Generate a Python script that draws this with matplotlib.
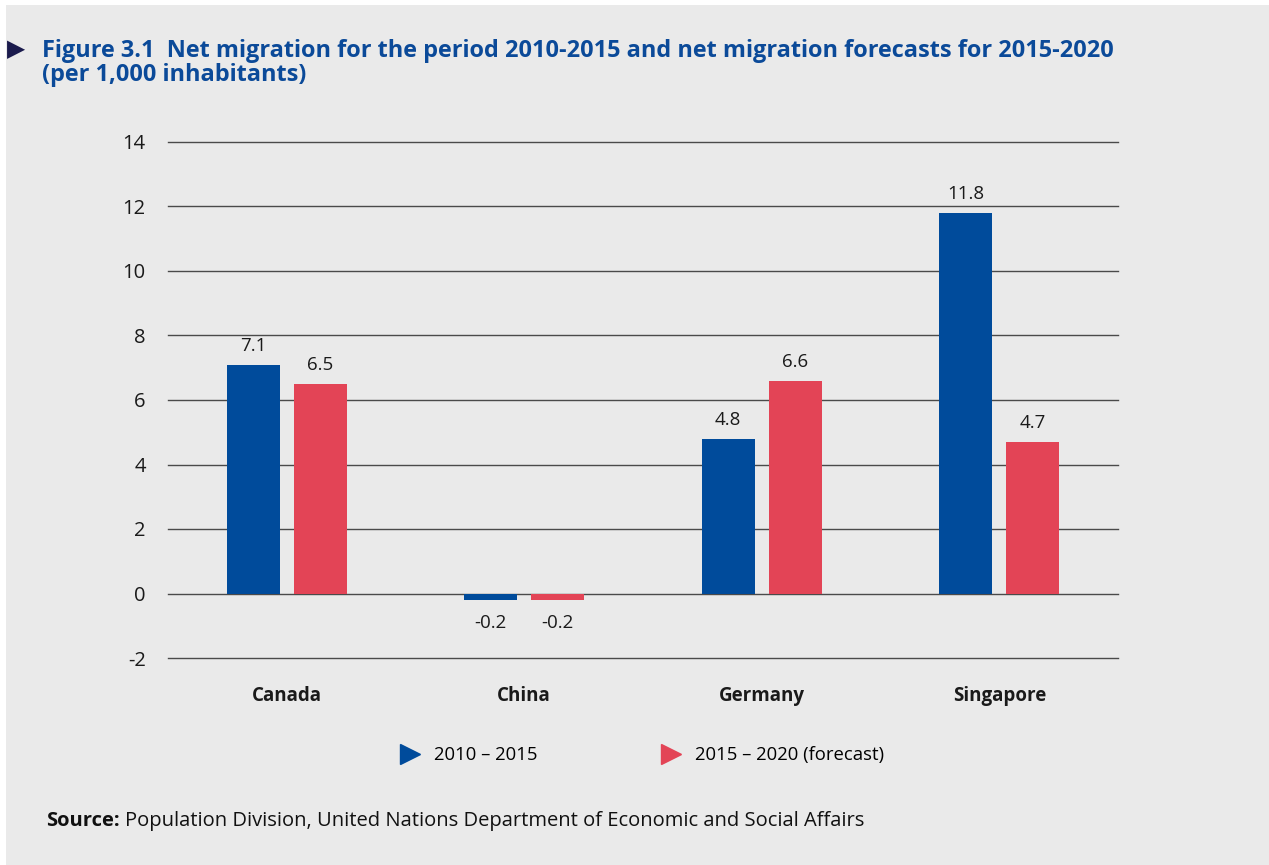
import numpy as np
import matplotlib
matplotlib.use('Agg')
import matplotlib.pyplot as plt
from matplotlib.lines import Line2D
from matplotlib.patches import Rectangle

plt.rcParams['font.family'] = ['Open Sans', 'Noto Sans', 'DejaVu Sans']

# данные
countries = ['Canada', 'China', 'Germany', 'Singapore']
mig_2010_2015 = [7.1, -0.2, 4.8, 11.8]
mig_2015_2020 = [6.5, -0.2, 6.6, 4.7]
labels_2010 = ['7.1', '-0.2', '4.8', '11.8']
labels_2015 = ['6.5', '-0.2', '6.6', '4.7']
series_names = ['2010 \u2013 2015', '2015 \u2013 2020 (forecast)']
y_ticks = [-2, 0, 2, 4, 6, 8, 10, 12, 14]

blue = '#004B9B'
red = '#E34456'
bg = '#EAEAEA'

fig = plt.figure(figsize=(12.69, 8.65), dpi=100)
fig.patch.set_facecolor('white')
fig.add_artist(Rectangle((6 / 1269, 0), 1 - 6 / 1269, 1 - 5 / 865,
                         transform=fig.transFigure, facecolor=bg,
                         edgecolor='none', zorder=-10))

ax = fig.add_axes([168 / 1269, 1 - 658 / 865, 950 / 1269, 516 / 865])
ax.set_facecolor('none')

x = np.arange(len(countries))
w = 0.223
off = 0.141
b1 = ax.bar(x - off, mig_2010_2015, w, color=blue, zorder=3)
b2 = ax.bar(x + off, mig_2015_2020, w, color=red, zorder=3)

for bars, vals, labs in [(b1, mig_2010_2015, labels_2010), (b2, mig_2015_2020, labels_2015)]:
    for bar, v, lab in zip(bars, vals, labs):
        xc = bar.get_x() + bar.get_width() / 2
        if v >= 0:
            ax.annotate(lab, (xc, v), xytext=(0, 7), textcoords='offset points',
                        ha='center', va='bottom', fontsize=13.5, color='#1a1a1a')
        else:
            ax.annotate(lab, (xc, v), xytext=(0, -10), textcoords='offset points',
                        ha='center', va='top', fontsize=13.5, color='#1a1a1a')

ax.set_xlim(-0.5, 3.5)
ax.set_ylim(-2, 14)
ax.set_yticks(y_ticks)
ax.set_yticklabels([str(t) for t in y_ticks], fontsize=14.5, color='#1a1a1a')
ax.set_xticks(x)
ax.set_xticklabels(countries, fontsize=13.5, fontweight='bold', color='#1a1a1a')
ax.tick_params(axis='y', length=0, pad=16)
ax.tick_params(axis='x', length=0, pad=20)
for s in ax.spines.values():
    s.set_visible(False)
ax.yaxis.grid(True, color='#4a4a4a', linewidth=1.0, zorder=0)
for gl in ax.get_ygridlines():
    gl.set_clip_on(False)
ax.set_axisbelow(True)

# легенда
handles = [Line2D([], [], marker='>', linestyle='none', color=blue, markersize=15),
           Line2D([], [], marker='>', linestyle='none', color=red, markersize=15)]
fig.legend(handles, series_names, loc='center left', ncol=2, frameon=False,
           bbox_to_anchor=(384 / 1269, 1 - 755 / 865), fontsize=13.3,
           handletextpad=0.8, columnspacing=6.75, handlelength=1.0)

# заголовок
fig.text(16 / 1269, 1 - 49 / 865, '\u25B6', fontsize=17, color='#1B1B4D',
         va='center', ha='center', family=['DejaVu Sans'])
fig.text(42 / 1269, 1 - 39 / 865,
         'Figure 3.1  Net migration for the period 2010-2015 and net migration forecasts for 2015-2020\n(per 1,000 inhabitants)',
         fontsize=16.9, fontweight='bold', color='#0B4A99', va='top', ha='left',
         linespacing=1.0)

# источник
fig.text(46 / 1269, 1 - 821 / 865, 'Source:', fontsize=14.5, fontweight='bold',
         color='#111111', va='center', ha='left')
fig.text(125 / 1269, 1 - 821 / 865,
         'Population Division, United Nations Department of Economic and Social Affairs',
         fontsize=14.5, color='#111111', va='center', ha='left')

fig.savefig('out.png', dpi=100, facecolor=fig.get_facecolor())
